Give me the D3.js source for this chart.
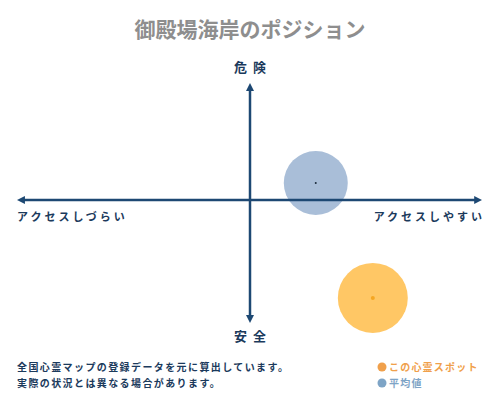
<!DOCTYPE html>
<html>
<head>
<meta charset="utf-8">
<script src="https://cdn.jsdelivr.net/npm/d3@7"></script>
<style>
  body { margin: 0; background: #fff; }
  svg text { font-family: "Noto Sans CJK JP", "Noto Sans", sans-serif; }
</style>
</head>
<body>
<svg id="chart" width="500" height="400"></svg>
<script>
'use strict'
// 値 (0-100, 50が中心)
var seriesNames = ["この心霊スポット", "平均値"];
var accessValues = [76.7, 64.3];   // 横: アクセスしづらい → しやすい
var dangerValues = [9.2, 57.1];    // 縦: 安全 → 危険
var axisLabels = { top: "危険", bottom: "安全", left: "アクセスしづらい", right: "アクセスしやすい" };
var noteLines = ["全国心霊マップの登録データを元に算出しています。", "実際の状況とは異なる場合があります。"];

var fillColors = ["#ffc765", "#a9bed8"];
var dotColors = ["#f5a623", "#1a2a3a"];
var radii = [35, 32];
var legendColors = ["#f0a04b", "#7ea4c6"];
var axisColor = "#1d4873";

var svg = d3.select("#chart");
var x = d3.scaleLinear().domain([0, 100]).range([20, 480]);
var y = d3.scaleLinear().domain([0, 100]).range([320, 80]);

//タイトル
svg.append("text")
    .attr("x", 250).attr("y", 37)
    .attr("text-anchor", "middle")
    .attr("font-size", 21)
    .attr("font-weight", "bold")
    .attr("fill", "#8e8e8e")
    .text("御殿場海岸のポジション");

//矢印
var defs = svg.append("defs");
defs.append("marker")
    .attr("id", "arrow")
    .attr("viewBox", "0 0 10 10")
    .attr("refX", 5).attr("refY", 5)
    .attr("markerWidth", 3.2).attr("markerHeight", 3.2)
    .attr("orient", "auto-start-reverse")
    .append("path")
    .attr("d", "M0,0 L10,5 L0,10 z")
    .attr("fill", axisColor);

//円 (平均値を下に)
var order = [1, 0];
order.forEach(function (i) {
    svg.append("circle")
        .attr("cx", x(accessValues[i]))
        .attr("cy", y(dangerValues[i]))
        .attr("r", radii[i])
        .attr("fill", fillColors[i]);
});

svg.append("line")
    .attr("x1", x(0.2)).attr("x2", x(99.6))
    .attr("y1", y(50)).attr("y2", y(50))
    .attr("stroke", axisColor).attr("stroke-width", 2.5)
    .attr("marker-start", "url(#arrow)")
    .attr("marker-end", "url(#arrow)");
svg.append("line")
    .attr("x1", x(50)).attr("x2", x(50))
    .attr("y1", y(97.1)).attr("y2", y(0.4))
    .attr("stroke", axisColor).attr("stroke-width", 2.5)
    .attr("marker-start", "url(#arrow)")
    .attr("marker-end", "url(#arrow)");

order.forEach(function (i) {
    svg.append("circle")
        .attr("cx", x(accessValues[i]))
        .attr("cy", y(dangerValues[i]))
        .attr("r", i === 0 ? 2 : 1)
        .attr("fill", dotColors[i]);
});

//軸ラベル
function label(tx, ty, anchor, txt, size, spacing) {
    svg.append("text")
        .attr("x", tx).attr("y", ty)
        .attr("text-anchor", anchor)
        .attr("font-size", size)
        .attr("font-weight", "bold")
        .attr("fill", "#1b3a5c")
        .attr("letter-spacing", spacing)
        .text(txt);
}
label(253, 72, "middle", axisLabels.top, 13, 6);
label(253, 341, "middle", axisLabels.bottom, 13, 6);
label(17, 221, "start", axisLabels.left, 11, 3);
label(485, 221, "end", axisLabels.right, 11, 3);

//注記
noteLines.forEach(function (t, i) {
    svg.append("text")
        .attr("x", 17).attr("y", 371 + i * 16)
        .attr("font-size", 10)
        .attr("font-weight", "bold")
        .attr("fill", "#1b3a5c")
        .attr("letter-spacing", 1.4)
        .text(t);
});

//凡例
seriesNames.forEach(function (name, i) {
    var ly = 367 + i * 16;
    svg.append("circle")
        .attr("cx", 382).attr("cy", ly).attr("r", 4.5)
        .attr("fill", legendColors[i]);
    svg.append("text")
        .attr("x", 389).attr("y", ly + 4)
        .attr("font-size", 10)
        .attr("font-weight", "bold")
        .attr("fill", legendColors[i])
        .attr("letter-spacing", 1.2)
        .text(name);
});
</script>
</body>
</html>
